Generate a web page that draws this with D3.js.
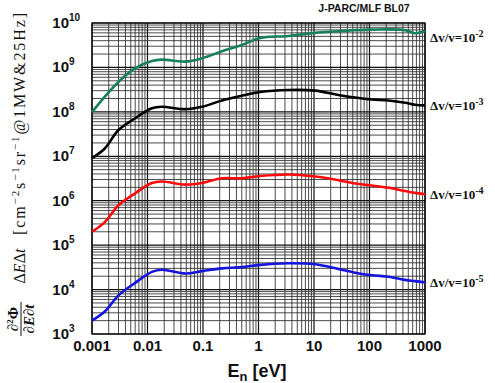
<!DOCTYPE html>
<html><head><meta charset="utf-8">
<script src="https://cdn.jsdelivr.net/npm/d3@7"></script>
<style>body{margin:0;background:#fff}svg{display:block}</style>
</head><body>
<script>
const energies = [0.001, 0.0017, 0.003, 0.0059, 0.012, 0.018, 0.048, 0.095, 0.22, 0.5, 1.07, 3.5, 10.5, 27.5, 55, 110, 220, 440, 660, 1000];
const flux_dv2 = [9.8e7, 2.2e8, 4.7e8, 9.5e8, 1.4e9, 1.5e9, 1.35e9, 1.6e9, 2.3e9, 3.2e9, 4.6e9, 5.1e9, 6.0e9, 6.5e9, 6.9e9, 7.1e9, 7.2e9, 6.9e9, 5.9e9, 6.6e9];
const flux_dv3 = [9.1e6, 1.5e7, 3.9e7, 7.1e7, 1.2e8, 1.3e8, 1.15e8, 1.3e8, 1.8e8, 2.3e8, 2.8e8, 3.1e8, 3.0e8, 2.4e8, 2.1e8, 1.9e8, 1.8e8, 1.6e8, 1.45e8, 1.4e8];
const flux_dv4 = [2.0e5, 3.3e5, 7.9e5, 1.45e6, 2.5e6, 2.7e6, 2.3e6, 2.5e6, 3.2e6, 3.2e6, 3.6e6, 3.9e6, 3.5e6, 2.9e6, 2.45e6, 2.2e6, 1.95e6, 1.65e6, 1.5e6, 1.4e6];
const flux_dv5 = [2.0e3, 3.2e3, 7.4e3, 1.4e4, 2.5e4, 2.8e4, 2.3e4, 2.6e4, 3.0e4, 3.2e4, 3.6e4, 3.9e4, 3.7e4, 2.9e4, 2.4e4, 2.1e4, 1.95e4, 1.65e4, 1.55e4, 1.45e4];
const seriesExp = ["-2", "-3", "-4", "-5"];
const seriesColors = ["#17805a", "#000000", "#ff0a0a", "#1414dc"];
const xTickLabels = ["0.001", "0.01", "0.1", "1", "10", "100", "1000"];
const yTickExps = ["3", "4", "5", "6", "7", "8", "9", "10"];
const title = "J-PARC/MLF BL07";

const W = 495, H = 383;
const m = {l: 92, r: 425, t: 23, b: 334};
const svg = d3.select("body").append("svg").attr("width", W).attr("height", H);
const x = d3.scaleLog().domain([1e-3, 1e3]).range([m.l, m.r]);
const y = d3.scaleLog().domain([1e3, 1e10]).range([m.b, m.t]);

const grid = svg.append("g");
const xg = [], yg = [];
for (let e = -3; e <= 3; e++) for (let k = 1; k <= 9; k++) { const v = k * Math.pow(10, e); if (v <= 1000.0001) xg.push({v, major: k === 1}); }
for (let e = 3; e <= 10; e++) for (let k = 1; k <= 9; k++) { const v = k * Math.pow(10, e); if (v <= 1.0001e10) yg.push({v, major: k === 1}); }
grid.selectAll(".gx").data(xg).join("line")
  .attr("x1", d => x(d.v)).attr("x2", d => x(d.v)).attr("y1", m.t).attr("y2", m.b)
  .attr("stroke", d => d.major ? "#111" : "#2a2a2a").attr("stroke-width", d => d.major ? 1.2 : 0.85);
grid.selectAll(".gy").data(yg).join("line")
  .attr("y1", d => y(d.v)).attr("y2", d => y(d.v)).attr("x1", m.l).attr("x2", m.r)
  .attr("stroke", d => d.major ? "#111" : "#2a2a2a").attr("stroke-width", d => d.major ? 1.2 : 0.85);
svg.append("rect").attr("x", m.l).attr("y", m.t).attr("width", m.r - m.l).attr("height", m.b - m.t)
  .attr("fill", "none").attr("stroke", "#000").attr("stroke-width", 1.2);

const all = [flux_dv2, flux_dv3, flux_dv4, flux_dv5];
const line = d3.line().x((d, i) => x(energies[i])).y(d => y(d)).curve(d3.curveCatmullRom.alpha(0.5));
all.forEach((s, i) => {
  svg.append("path").attr("d", line(s)).attr("fill", "none").attr("stroke", seriesColors[i]).attr("stroke-width", 2.6);
});

all.forEach((s, i) => {
  const yy = Math.max(y(s[s.length - 1]) + 5, 42);
  const t = svg.append("text").attr("x", 430).attr("y", yy)
    .attr("font-family", "Liberation Serif, serif").attr("font-weight", "bold").attr("font-size", 13).attr("fill", "#111");
  t.append("tspan").text("\u0394v/v=10");
  t.append("tspan").attr("dy", -5).attr("font-size", 10).text(seriesExp[i]);
});

const xt = [1e-3, 1e-2, 1e-1, 1, 10, 100, 1000];
svg.selectAll(".xl").data(xt).join("text")
  .attr("x", d => x(d)).attr("y", 351).attr("text-anchor", "middle")
  .attr("font-family", "Liberation Sans, Arial, sans-serif").attr("font-weight", "bold").attr("font-size", 15)
  .attr("fill", "#111").text((d, i) => xTickLabels[i]);

yTickExps.forEach(e => {
  const yy = y(Math.pow(10, +e));
  svg.append("text").attr("x", 69).attr("y", yy + 5).attr("text-anchor", "end")
    .attr("font-family", "Liberation Sans, Arial, sans-serif").attr("font-weight", "bold").attr("font-size", 15).attr("fill", "#111").text("10");
  svg.append("text").attr("x", 69).attr("y", yy - 2).attr("font-family", "Liberation Sans, Arial, sans-serif")
    .attr("font-weight", "bold").attr("font-size", 10).attr("fill", "#111").text(e);
});

const xt2 = svg.append("text").attr("x", 257).attr("y", 377).attr("text-anchor", "middle")
  .attr("font-family", "Liberation Sans, Arial, sans-serif").attr("font-weight", "bold").attr("font-size", 18).attr("fill", "#111");
xt2.append("tspan").text("E");
xt2.append("tspan").attr("font-size", 13).attr("dy", 4).text("n");
xt2.append("tspan").attr("dy", -4).text(" [eV]");

svg.append("text").attr("x", 364).attr("y", 12).attr("text-anchor", "middle")
  .attr("font-family", "Liberation Sans, Arial, sans-serif").attr("font-weight", "bold").attr("font-size", 10.5)
  .attr("fill", "#111").text(title);

const g = svg.append("g").attr("transform", "translate(0,383) rotate(-90)");
const serif = "Liberation Serif, Times New Roman, serif";
const num = g.append("text").attr("x", 64).attr("y", 18).attr("text-anchor", "middle").attr("font-family", serif).attr("font-size", 15).attr("font-weight", "bold").attr("fill", "#111");
num.append("tspan").text("\u2202");
num.append("tspan").attr("font-size", 9).attr("dy", -5).text("2");
num.append("tspan").attr("dy", 5).text("\u03A6");
g.append("line").attr("x1", 47).attr("x2", 81).attr("y1", 21).attr("y2", 21).attr("stroke", "#111").attr("stroke-width", 1);
const den = g.append("text").attr("x", 64).attr("y", 34).attr("text-anchor", "middle").attr("font-family", serif).attr("font-size", 15).attr("font-weight", "bold").attr("fill", "#111");
den.append("tspan").text("\u2202");
den.append("tspan").attr("font-style", "italic").text("E");
den.append("tspan").text("\u2202");
den.append("tspan").attr("font-style", "italic").text("t");
const de = g.append("text").attr("x", 117).attr("y", 25).attr("text-anchor", "middle").attr("font-family", serif).attr("font-size", 16).attr("fill", "#111");
de.append("tspan").text("\u0394");
de.append("tspan").attr("font-style", "italic").text("E");
de.append("tspan").text("\u0394");
de.append("tspan").attr("font-style", "italic").text("t");
const br = g.append("text").attr("x", 148).attr("y", 25).attr("font-family", serif).attr("font-size", 16).attr("fill", "#111")
  .attr("textLength", 222).attr("lengthAdjust", "spacing");
br.append("tspan").text("[cm");
br.append("tspan").attr("font-size", 11).attr("dy", -6).text("\u22122");
br.append("tspan").attr("dy", 6).text("s");
br.append("tspan").attr("font-size", 11).attr("dy", -6).text("\u22121");
br.append("tspan").attr("dy", 6).text("sr");
br.append("tspan").attr("font-size", 11).attr("dy", -6).text("\u22121");
br.append("tspan").attr("dy", 6).text("@1MW&25Hz]");
</script>
</body></html>
